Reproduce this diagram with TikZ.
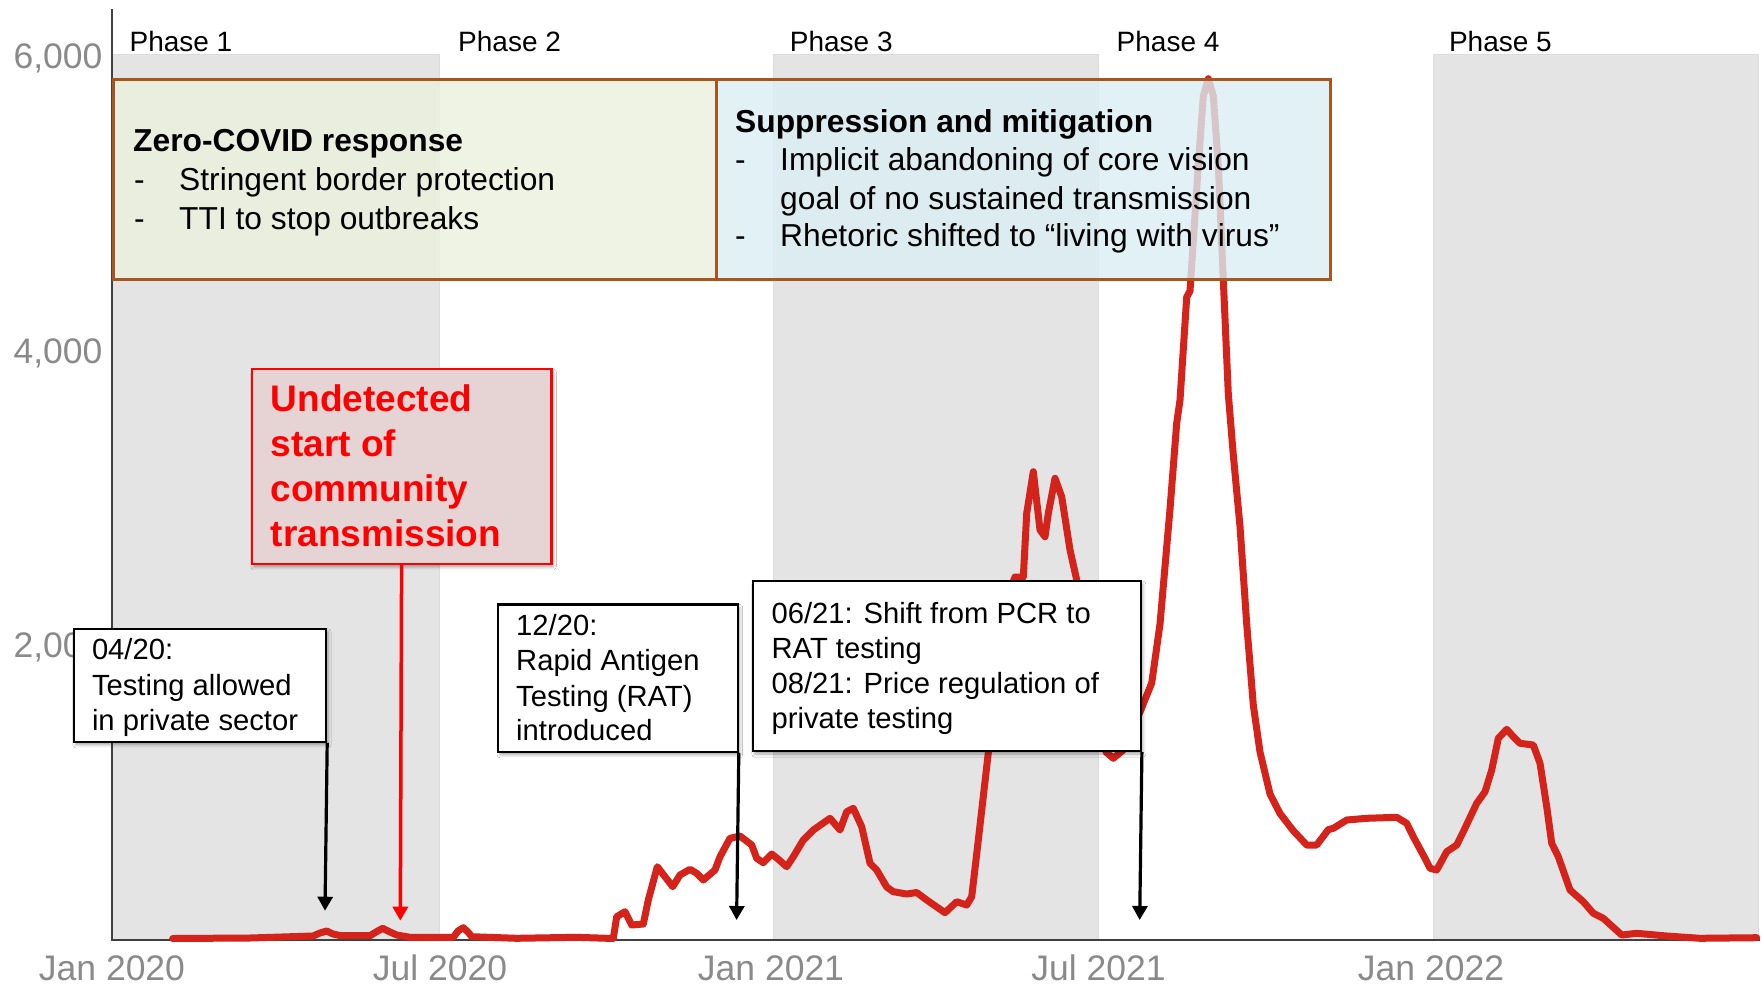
\documentclass[tikz,border=0pt]{standalone}
\usepackage{fontspec}
\setmainfont{Liberation Sans}
\usetikzlibrary{arrows.meta,shadows.blur}
\definecolor{bandgray}{HTML}{E4E4E4}
\definecolor{bandedge}{HTML}{DCDCDC}
\definecolor{axisgray}{HTML}{404040}
\definecolor{tickgray}{HTML}{8A8A8A}
\definecolor{curvered}{HTML}{D4231A}
\definecolor{boxbrown}{HTML}{A9561E}
\definecolor{greenfill}{HTML}{EBF1DE}
\definecolor{bluefill}{HTML}{DAEEF3}
\definecolor{pinkfill}{HTML}{E6D3D3}
\definecolor{alertred}{HTML}{FF0000}
\begin{document}
\begin{tikzpicture}[x=1pt,y=-1pt,
  band/.style={fill=bandgray,draw=bandedge,line width=1pt},
  axisline/.style={draw=axisgray,line width=2.5pt},
  ytick/.style={font=\fontsize{35.5}{40}\selectfont,text=tickgray,inner sep=0pt,anchor=base east},
  xtick/.style={font=\fontsize{35.5}{40}\selectfont,text=tickgray,inner sep=0pt,anchor=base},
  phaselbl/.style={font=\fontsize{28}{32}\selectfont,text=black,inner sep=0pt,anchor=base west},
  boxtxt/.style={font=\fontsize{31.75}{36}\selectfont,inner sep=0pt,anchor=base west},
  boxhead/.style={font=\fontsize{31.75}{36}\selectfont\bfseries,inner sep=0pt,anchor=base west},
  notetxt/.style={font=\fontsize{29.2}{34}\selectfont,inner sep=0pt,anchor=base west},
  redtxt/.style={font=\fontsize{37}{44}\selectfont\bfseries,text=alertred,inner sep=0pt,anchor=base west},
  policybox/.style={draw=boxbrown,line width=2.5pt,fill opacity=0.8,anchor=north west,inner sep=0pt},
  notebox/.style={draw=black,line width=2.2pt,fill=white,anchor=north west,inner sep=0pt,
    blur shadow={shadow xshift=2pt,shadow yshift=-3pt,shadow blur radius=3pt,shadow opacity=35}},
  alertbox/.style={draw=alertred,line width=2.5pt,fill=pinkfill,anchor=north west,inner sep=0pt,
    blur shadow={shadow xshift=2pt,shadow yshift=-3pt,shadow blur radius=3pt,shadow opacity=35}},
  blackarrow/.style={draw=black,line width=3.2pt,-{Triangle[width=15pt,length=14pt]}},
  redarrow/.style={draw=alertred,line width=3.5pt,-{Triangle[width=15pt,length=14pt]}},
  casecurve/.style={draw=curvered,line width=7pt,line join=round,line cap=round}
]
\useasboundingbox[fill=white] (0,0) rectangle (1763,987);

% phase bands
\fill[band] (112,55) rectangle (439,940);
\fill[band] (773.6,55) rectangle (1098.5,940);
\fill[band] (1433,55) rectangle (1758,940);

% axes
\coordinate (ytop) at (112,9);
\coordinate (origin) at (112,940);
\coordinate (xend) at (1760,940);
\draw[axisline] (ytop) -- (origin) -- (xend);

% y tick labels
\node[ytick] (y6000) at (102.6,68.3) {6,000};
\node[ytick] (y4000) at (102.6,363) {4,000};
\node[ytick] (y2000) at (102.6,657.9) {2,000};

% x tick labels
\node[xtick] (xjan20) at (112,980) {Jan 2020};
\node[xtick] (xjul20) at (440,980) {Jul 2020};
\node[xtick] (xjan21) at (771,980) {Jan 2021};
\node[xtick] (xjul21) at (1098.5,980) {Jul 2021};
\node[xtick] (xjan22) at (1431,980) {Jan 2022};

% phase labels
\node[phaselbl] (ph1) at (129.4,51.7) {Phase 1};
\node[phaselbl] (ph2) at (458,51.7) {Phase 2};
\node[phaselbl] (ph3) at (789.7,51.7) {Phase 3};
\node[phaselbl] (ph4) at (1116.5,51.7) {Phase 4};
\node[phaselbl] (ph5) at (1448.8,51.7) {Phase 5};

% case curve
\draw[casecurve] (172.7,938.5) -- (250,938) -- (313,936) -- (320,933) -- (326.7,931) -- (333,934) -- (340,935.5) -- (370,935.7) -- (376,932) -- (382.7,928.3) -- (390,932) -- (396.7,935) -- (410,937.3) -- (453.3,937.3) -- (458,931) -- (463.3,927.7) -- (468,932) -- (471.7,936.7) -- (516.7,938.3) -- (576.7,937.3) -- (613.3,938.5) -- (616.7,916.7) -- (625,911.7) -- (631.7,925) -- (643.3,924) -- (648.3,900) -- (657.3,866.7) -- (665,876.7) -- (672.7,886.7) -- (680,875) -- (690,869.3) -- (696.7,873.3) -- (703.3,880) -- (715,870) -- (720,856.7) -- (730,838.3) -- (740,836) -- (751.7,845) -- (756.7,858.3) -- (763.3,862.7) -- (771.7,854) -- (778.3,859.3) -- (786.7,866.7) -- (793.3,856.7) -- (803.3,840) -- (813.3,830) -- (830,818.3) -- (840,830) -- (846.7,811.7) -- (853.3,808.3) -- (861.7,826.7) -- (870,863.3) -- (876.7,870) -- (886.7,887) -- (893.3,891.7) -- (906.7,894) -- (916.7,892.5) -- (926.7,900) -- (945,912.7) -- (956.7,901.7) -- (966.7,905) -- (971.7,896.7) -- (978.3,840) -- (986.7,766.7) -- (991.7,723) -- (1000,650) -- (1008,595) -- (1015,577) -- (1023.3,577) -- (1026.7,513.3) -- (1033.3,471.7) -- (1040,530) -- (1045,536.7) -- (1048.3,513.3) -- (1055,478.3) -- (1061.7,496.7) -- (1070,550) -- (1076.7,580) -- (1090,650) -- (1100,720) -- (1106,752) -- (1113.3,758.3) -- (1123.3,750) -- (1140,712) -- (1151.7,683) -- (1160,624) -- (1170,509) -- (1176.7,423) -- (1180,400) -- (1186.7,297) -- (1190,291) -- (1198.3,165) -- (1203.3,96) -- (1208.3,78.7) -- (1213.3,96) -- (1218.3,165) -- (1223.3,280) -- (1228.3,394) -- (1233.3,455) -- (1240,526.5) -- (1246.7,624) -- (1253.3,705) -- (1260,752) -- (1270,794) -- (1280,813.5) -- (1293.3,830.7) -- (1306.7,845) -- (1316.7,845) -- (1328.3,829.6) -- (1333.3,828.3) -- (1346.7,820) -- (1366.7,818.3) -- (1396.7,817.3) -- (1406.7,823.3) -- (1413.3,836.7) -- (1425,858.3) -- (1430,868.3) -- (1436.7,870) -- (1446.7,851.7) -- (1456.7,845) -- (1463.3,831.7) -- (1476.7,803.3) -- (1485,791.7) -- (1491.7,770) -- (1498.3,738.3) -- (1506.7,729.3) -- (1513.3,736.7) -- (1520,743.3) -- (1533.3,745) -- (1540,763.3) -- (1546.7,806.7) -- (1551.7,843.3) -- (1558.3,856.7) -- (1570,890) -- (1583.3,901.7) -- (1593.3,913.3) -- (1603.3,918.3) -- (1621.7,935) -- (1636.7,933.3) -- (1666.7,936) -- (1700,938.3) -- (1756.7,937.7);

% policy boxes
\node[policybox,fill=greenfill,minimum width=603pt,minimum height=200pt] (zerobox) at (112,78.3) {};
\node[policybox,fill=bluefill,minimum width=614pt,minimum height=200pt] (suppbox) at (715,78.3) {};

\node[boxhead] (zerohead) at (133,151.7) {Zero-COVID response};
\node[boxtxt] (zerob1) at (134,190.7) {-};
\node[boxtxt] (zerot1) at (179,190.7) {Stringent border protection};
\node[boxtxt] (zerob2) at (134,229.3) {-};
\node[boxtxt] (zerot2) at (179,229.3) {TTI to stop outbreaks};

\node[boxhead] (supphead) at (735,132.7) {Suppression and mitigation};
\node[boxtxt] (suppb1) at (735,170.7) {-};
\node[boxtxt] (suppt1) at (780,170.7) {Implicit abandoning of core vision};
\node[boxtxt] (suppt1b) at (780,209.3) {goal of no sustained transmission};
\node[boxtxt] (suppb2) at (735,246.7) {-};
\node[boxtxt] (suppt2) at (780,246.7) {Rhetoric shifted to “living with virus”};

% red annotation
\node[alertbox,minimum width=299.3pt,minimum height=195pt] (redbox) at (250.7,367.7) {};
\node[redtxt] (red1) at (270.6,411.7) {Undetected};
\node[redtxt] (red2) at (270.6,456.7) {start of};
\node[redtxt] (red3) at (270.6,501.7) {community};
\node[redtxt] (red4) at (270.6,546) {transmission};
\coordinate (redtip) at (400.3,920.7);
\draw[redarrow] (redbox.south) -- (redtip);

% note boxes
\node[notebox,minimum width=252.3pt,minimum height=113pt] (n0420) at (72.7,627.7) {};
\node[notetxt] (n0420a) at (91.8,659.3) {04/20:};
\node[notetxt] (n0420b) at (91.8,695.7) {Testing allowed};
\node[notetxt] (n0420c) at (91.8,730) {in private sector};
\coordinate (tip0420) at (325,910.7);
\draw[blackarrow] (n0420.south east) -- (tip0420);

\node[notebox,minimum width=239.6pt,minimum height=147.4pt] (n1220) at (497,603.3) {};
\node[notetxt] (n1220a) at (516,635) {12/20:};
\node[notetxt] (n1220b) at (516,670.7) {Rapid Antigen};
\node[notetxt] (n1220c) at (516,706) {Testing (RAT)};
\node[notetxt] (n1220d) at (516,740.7) {introduced};
\coordinate (tip1220) at (736.6,920);
\draw[blackarrow] (n1220.south east) -- (tip1220);

\node[notebox,minimum width=387.9pt,minimum height=170pt] (n0621) at (751.8,580) {};
\node[notetxt] (n0621a) at (771.4,623.3) {06/21: Shift from PCR to};
\node[notetxt] (n0621b) at (771.4,658.3) {RAT testing};
\node[notetxt] (n0621c) at (771.4,693.3) {08/21: Price regulation of};
\node[notetxt] (n0621d) at (771.4,728.3) {private testing};
\coordinate (tip0621) at (1139.7,920);
\draw[blackarrow] (n0621.south east) -- (tip0621);
\end{tikzpicture}
\end{document}
